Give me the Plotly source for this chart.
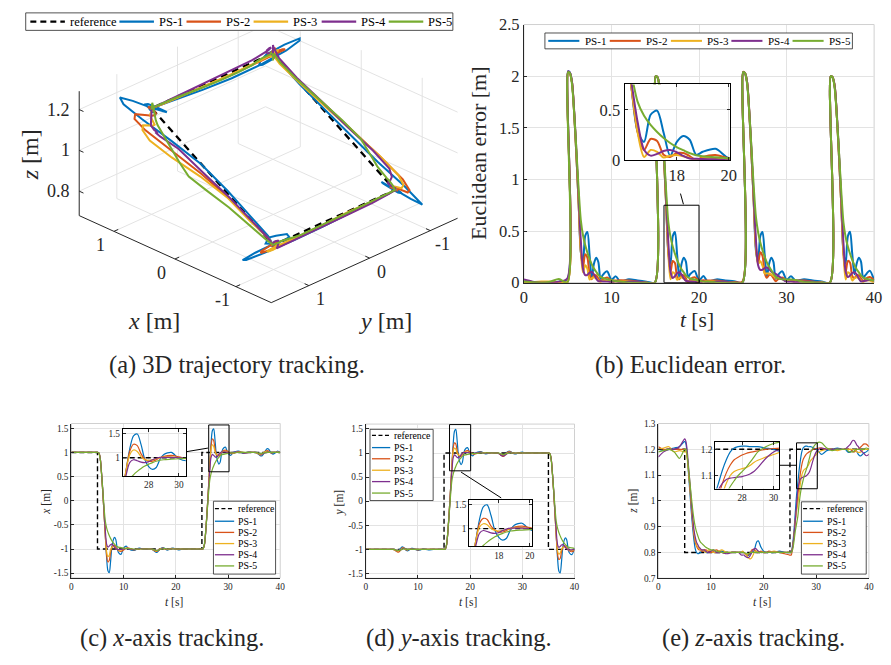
import numpy as np
import plotly.graph_objects as go

W, H = 891, 665
FONT = "Liberation Serif, DejaVu Serif, serif"
AX = "#262626"
GRID = "#e3e3e3"

names = ["PS-1", "PS-2", "PS-3", "PS-4", "PS-5"]
colors = ["#0072BD", "#D95319", "#EDB120", "#7E2F8E", "#77AC30"]

# ---------------- data ----------------
t = [0, 1, 2, 3, 4, 4.95,
     5.05, 5.25, 5.5, 5.75, 6, 6.25, 6.5, 6.75, 7, 7.25, 7.5, 7.75, 8, 8.25, 8.5, 8.75, 9, 9.5, 10, 10.5, 11, 12, 13, 14, 14.95,
     15.05, 15.25, 15.5, 15.75, 16, 16.25, 16.5, 16.75, 17, 17.25, 17.5, 17.75, 18, 18.25, 18.5, 18.75, 19, 19.5, 20, 20.5, 21, 22, 23, 24, 24.95,
     25.05, 25.25, 25.5, 25.75, 26, 26.25, 26.5, 26.75, 27, 27.25, 27.5, 27.75, 28, 28.25, 28.5, 28.75, 29, 29.5, 30, 30.5, 31, 32, 33, 34, 34.95,
     35.05, 35.25, 35.5, 35.75, 36, 36.25, 36.5, 36.75, 37, 37.25, 37.5, 37.75, 38, 38.25, 38.5, 38.75, 39, 39.5, 40]

ref_switch = [5, 15, 25, 35]
ref_x_levels = [1, -1, -1, 1, 1]
ref_y_levels = [-1, -1, 1, 1, -1]
ref_z_levels = [1.2, 0.8, 0.8, 1.2, 1.2]

# PS-1
x_ps1 = [1.00, 1.00, 1.00, 1.00, 1.00, 1.00,
         1.00, 0.99, 0.90, 0.60, 0.20, -0.25, -0.72, -1.18, -1.45, -1.49, -1.27, -0.96, -0.82, -0.76, -0.80, -0.97, -1.07, -1.11, -0.98, -0.94, -1.00, -1.03, -0.98, -1.01, -1.00,
         -1.00, -1.00, -1.01, -1.03, -1.05, -1.07, -1.06, -1.03, -1.00, -0.98, -0.97, -0.98, -1.00, -1.02, -1.02, -1.01, -0.99, -0.98, -1.00, -1.02, -1.01, -0.99, -1.00, -1.01, -1.00,
         -1.00, -0.99, -0.90, -0.60, -0.20, 0.25, 0.72, 1.18, 1.45, 1.49, 1.27, 0.96, 0.82, 0.76, 0.80, 0.97, 1.07, 1.11, 0.98, 0.94, 1.00, 1.03, 0.98, 1.01, 1.00,
         1.00, 1.00, 0.99, 0.97, 0.95, 0.93, 0.93, 0.96, 1.01, 1.05, 1.08, 1.07, 1.03, 0.99, 0.97, 0.97, 0.99, 1.03, 1.00]
y_ps1 = [-1.00, -1.00, -1.00, -1.00, -1.00, -1.00,
         -1.00, -1.00, -1.01, -1.03, -1.04, -1.03, -1.00, -0.97, -0.95, -0.96, -0.99, -1.02, -1.03, -1.02, -1.00, -0.98, -0.98, -1.00, -1.02, -1.01, -0.99, -1.01, -1.00, -1.00, -1.00,
         -1.00, -0.99, -0.90, -0.60, -0.20, 0.25, 0.72, 1.18, 1.45, 1.49, 1.27, 0.96, 0.82, 0.76, 0.80, 0.97, 1.07, 1.11, 0.98, 0.94, 1.00, 1.03, 0.98, 1.01, 1.00,
         1.00, 1.00, 0.99, 0.97, 0.95, 0.94, 0.95, 0.98, 1.01, 1.03, 1.04, 1.03, 1.01, 0.99, 0.98, 0.98, 0.99, 1.01, 1.02, 1.00, 0.99, 1.01, 1.00, 1.00, 1.00,
         1.00, 0.99, 0.90, 0.60, 0.20, -0.25, -0.72, -1.18, -1.45, -1.49, -1.27, -0.96, -0.82, -0.76, -0.80, -0.97, -1.07, -1.11, -0.98]
z_ps1 = [1.20, 1.195, 1.20, 1.205, 1.21, 1.23,
         1.23, 1.22, 1.17, 1.10, 1.03, 0.96, 0.90, 0.85, 0.815, 0.80, 0.795, 0.797, 0.80, 0.805, 0.807, 0.805, 0.80, 0.80, 0.805, 0.80, 0.80, 0.805, 0.80, 0.80, 0.80,
         0.80, 0.80, 0.80, 0.80, 0.80, 0.80, 0.795, 0.79, 0.788, 0.79, 0.795, 0.80, 0.80, 0.81, 0.83, 0.843, 0.845, 0.82, 0.805, 0.80, 0.80, 0.80, 0.805, 0.80, 0.80,
         0.80, 0.80, 0.83, 0.88, 0.95, 1.02, 1.07, 1.12, 1.16, 1.19, 1.205, 1.21, 1.212, 1.212, 1.21, 1.21, 1.21, 1.205, 1.20, 1.19, 1.18, 1.195, 1.20, 1.205, 1.20,
         1.20, 1.20, 1.20, 1.195, 1.19, 1.188, 1.19, 1.195, 1.20, 1.20, 1.195, 1.19, 1.18, 1.175, 1.175, 1.18, 1.185, 1.19, 1.20]

# PS-2
x_ps2 = [1.00, 1.00, 1.00, 1.00, 1.00, 1.00,
         1.00, 0.99, 0.90, 0.60, 0.20, -0.25, -0.72, -1.13, -1.27, -1.24, -1.08, -0.97, -0.93, -0.93, -0.96, -1.00, -1.03, -1.05, -1.02, -0.98, -0.98, -1.02, -0.99, -1.00, -1.00,
         -1.00, -1.00, -1.01, -1.02, -1.04, -1.05, -1.04, -1.02, -1.00, -0.99, -0.98, -0.99, -1.00, -1.01, -1.01, -1.00, -0.99, -0.99, -1.00, -1.01, -1.00, -1.00, -1.00, -1.00, -1.00,
         -1.00, -0.99, -0.90, -0.60, -0.20, 0.25, 0.72, 1.13, 1.28, 1.25, 1.08, 0.97, 0.93, 0.93, 0.96, 1.00, 1.03, 1.05, 1.02, 0.98, 0.98, 1.02, 0.99, 1.00, 1.00,
         1.00, 1.00, 0.99, 0.98, 0.96, 0.95, 0.96, 0.98, 1.01, 1.03, 1.04, 1.03, 1.01, 0.99, 0.99, 1.00, 1.00, 1.01, 1.00]
y_ps2 = [-1.00, -1.00, -1.00, -1.00, -1.00, -1.00,
         -1.00, -1.00, -1.01, -1.03, -1.05, -1.06, -1.04, -1.00, -0.97, -0.97, -0.99, -1.01, -1.01, -1.00, -1.00, -0.99, -1.00, -1.00, -1.01, -1.00, -1.00, -1.00, -1.00, -1.00, -1.00,
         -1.00, -0.99, -0.90, -0.60, -0.20, 0.25, 0.72, 1.10, 1.21, 1.19, 1.05, 0.97, 0.93, 0.93, 0.96, 1.00, 1.03, 1.05, 1.02, 0.98, 0.98, 1.02, 0.99, 1.00, 1.00,
         1.00, 1.00, 0.99, 0.97, 0.95, 0.93, 0.94, 0.97, 1.00, 1.02, 1.03, 1.02, 1.01, 1.00, 0.99, 0.99, 1.00, 1.01, 1.00, 1.00, 1.00, 1.00, 1.00, 1.00, 1.00,
         1.00, 0.99, 0.90, 0.60, 0.20, -0.25, -0.72, -1.10, -1.21, -1.19, -1.05, -0.97, -0.93, -0.93, -0.96, -1.00, -1.03, -1.05, -1.02]
z_ps2 = [1.21, 1.20, 1.20, 1.20, 1.20, 1.20,
         1.20, 1.20, 1.17, 1.11, 1.05, 0.98, 0.92, 0.87, 0.84, 0.825, 0.815, 0.81, 0.81, 0.805, 0.805, 0.81, 0.81, 0.805, 0.80, 0.805, 0.81, 0.80, 0.80, 0.80, 0.80,
         0.80, 0.80, 0.80, 0.80, 0.80, 0.80, 0.795, 0.79, 0.79, 0.795, 0.80, 0.81, 0.812, 0.81, 0.805, 0.80, 0.80, 0.805, 0.80, 0.80, 0.805, 0.80, 0.80, 0.795, 0.79,
         0.79, 0.79, 0.82, 0.86, 0.92, 0.97, 1.02, 1.07, 1.11, 1.14, 1.16, 1.17, 1.178, 1.184, 1.188, 1.191, 1.194, 1.20, 1.203, 1.205, 1.205, 1.20, 1.20, 1.20, 1.20,
         1.20, 1.20, 1.20, 1.20, 1.20, 1.20, 1.20, 1.195, 1.19, 1.19, 1.195, 1.20, 1.20, 1.205, 1.21, 1.215, 1.22, 1.22, 1.21]

# PS-3
x_ps3 = [1.00, 1.00, 1.00, 1.00, 1.00, 1.00,
         1.00, 0.99, 0.90, 0.60, 0.20, -0.25, -0.72, -1.06, -1.16, -1.13, -1.02, -0.96, -0.95, -0.96, -0.98, -1.00, -1.02, -1.02, -1.00, -0.99, -0.99, -1.01, -1.00, -1.00, -1.00,
         -1.00, -1.00, -1.01, -1.02, -1.03, -1.04, -1.03, -1.01, -1.00, -0.99, -0.99, -1.00, -1.00, -1.00, -1.01, -1.00, -1.00, -0.99, -1.00, -1.00, -1.00, -1.00, -1.00, -1.00, -1.00,
         -1.00, -0.99, -0.90, -0.60, -0.20, 0.25, 0.72, 1.06, 1.16, 1.13, 1.02, 0.96, 0.95, 0.96, 0.98, 1.00, 1.02, 1.02, 1.00, 0.99, 0.99, 1.01, 1.00, 1.00, 1.00,
         1.00, 1.00, 0.99, 0.98, 0.97, 0.96, 0.97, 0.99, 1.01, 1.02, 1.02, 1.01, 1.00, 1.00, 1.00, 1.00, 1.00, 1.00, 1.00]
y_ps3 = [-1.00, -1.00, -1.00, -1.00, -1.00, -1.00,
         -1.00, -1.00, -1.01, -1.02, -1.03, -1.03, -1.02, -1.00, -0.98, -0.98, -0.99, -1.00, -1.01, -1.00, -1.00, -1.00, -1.00, -1.00, -1.00, -1.00, -1.00, -1.00, -1.00, -1.00, -1.00,
         -1.00, -0.99, -0.90, -0.60, -0.20, 0.25, 0.72, 1.03, 1.10, 1.08, 1.00, 0.96, 0.95, 0.96, 0.98, 1.00, 1.02, 1.02, 1.00, 0.99, 0.99, 1.01, 1.00, 1.00, 1.00,
         1.00, 1.00, 0.99, 0.98, 0.96, 0.95, 0.95, 0.97, 0.99, 1.01, 1.02, 1.01, 1.00, 1.00, 1.00, 1.00, 1.00, 1.00, 1.00, 1.00, 1.00, 1.00, 1.00, 1.00, 1.00,
         1.00, 0.99, 0.90, 0.60, 0.20, -0.25, -0.72, -1.03, -1.10, -1.08, -1.00, -0.96, -0.95, -0.96, -0.98, -1.00, -1.02, -1.02, -1.00]
z_ps3 = [1.20, 1.205, 1.21, 1.19, 1.195, 1.19,
         1.19, 1.19, 1.16, 1.11, 1.05, 0.99, 0.93, 0.88, 0.85, 0.83, 0.82, 0.815, 0.81, 0.81, 0.81, 0.805, 0.80, 0.81, 0.805, 0.80, 0.80, 0.81, 0.80, 0.80, 0.80,
         0.80, 0.80, 0.80, 0.80, 0.805, 0.80, 0.795, 0.79, 0.783, 0.777, 0.775, 0.78, 0.79, 0.80, 0.805, 0.805, 0.80, 0.80, 0.80, 0.80, 0.80, 0.805, 0.80, 0.80, 0.80,
         0.80, 0.80, 0.82, 0.86, 0.92, 0.96, 0.99, 1.03, 1.07, 1.10, 1.115, 1.122, 1.126, 1.13, 1.138, 1.15, 1.158, 1.17, 1.18, 1.19, 1.195, 1.20, 1.20, 1.195, 1.20,
         1.20, 1.20, 1.20, 1.20, 1.20, 1.20, 1.20, 1.20, 1.20, 1.20, 1.195, 1.19, 1.188, 1.188, 1.19, 1.195, 1.20, 1.20, 1.20]

# PS-4
x_ps4 = [1.00, 1.00, 1.00, 1.00, 1.00, 1.00,
         1.00, 0.99, 0.90, 0.62, 0.24, -0.20, -0.62, -0.90, -0.96, -0.94, -0.91, -0.90, -0.92, -0.96, -0.99, -1.01, -1.01, -1.01, -1.00, -0.99, -1.00, -1.01, -0.99, -1.00, -1.00,
         -1.00, -1.00, -1.00, -1.01, -1.02, -1.03, -1.03, -1.02, -1.01, -1.00, -0.99, -0.99, -1.00, -1.00, -1.00, -1.00, -1.00, -1.00, -1.00, -1.00, -1.00, -1.00, -1.00, -1.00, -1.00,
         -1.00, -0.99, -0.90, -0.62, -0.24, 0.20, 0.62, 0.90, 0.96, 0.94, 0.91, 0.90, 0.92, 0.96, 0.99, 1.01, 1.01, 1.01, 1.00, 0.99, 1.00, 1.01, 0.99, 1.00, 1.00,
         1.00, 1.00, 1.00, 0.99, 0.98, 0.97, 0.97, 0.98, 0.99, 1.00, 1.01, 1.01, 1.00, 1.00, 1.00, 1.00, 1.00, 1.00, 1.00]
y_ps4 = [-1.00, -1.00, -1.00, -1.00, -1.00, -1.00,
         -1.00, -1.00, -1.00, -1.01, -1.02, -1.02, -1.02, -1.01, -0.99, -0.98, -0.98, -0.99, -1.00, -1.00, -1.00, -1.00, -1.00, -1.00, -1.00, -1.00, -1.00, -1.00, -1.00, -1.00, -1.00,
         -1.00, -0.99, -0.90, -0.62, -0.24, 0.20, 0.62, 0.90, 0.96, 0.94, 0.91, 0.90, 0.92, 0.96, 0.99, 1.01, 1.01, 1.01, 1.00, 0.99, 1.00, 1.01, 0.99, 1.00, 1.00,
         1.00, 1.00, 0.99, 0.97, 0.95, 0.94, 0.94, 0.96, 0.98, 1.00, 1.01, 1.01, 1.00, 1.00, 1.00, 1.00, 1.00, 1.00, 1.00, 1.00, 1.00, 1.00, 1.00, 1.00, 1.00,
         1.00, 0.99, 0.90, 0.62, 0.24, -0.20, -0.62, -0.90, -0.96, -0.94, -0.91, -0.90, -0.92, -0.96, -0.99, -1.01, -1.01, -1.01, -1.00]
z_ps4 = [1.17, 1.19, 1.20, 1.20, 1.21, 1.24,
         1.24, 1.23, 1.19, 1.13, 1.07, 1.00, 0.94, 0.89, 0.86, 0.84, 0.83, 0.82, 0.815, 0.81, 0.81, 0.81, 0.805, 0.80, 0.805, 0.81, 0.80, 0.80, 0.795, 0.80, 0.80,
         0.80, 0.80, 0.795, 0.79, 0.79, 0.79, 0.785, 0.782, 0.78, 0.782, 0.79, 0.80, 0.81, 0.815, 0.815, 0.81, 0.805, 0.80, 0.80, 0.80, 0.80, 0.80, 0.80, 0.80, 0.80,
         0.80, 0.80, 0.82, 0.86, 0.92, 0.98, 1.045, 1.07, 1.085, 1.09, 1.092, 1.094, 1.096, 1.10, 1.106, 1.115, 1.13, 1.165, 1.19, 1.20, 1.205, 1.20, 1.20, 1.20, 1.20,
         1.20, 1.20, 1.20, 1.205, 1.21, 1.215, 1.22, 1.23, 1.235, 1.233, 1.225, 1.215, 1.21, 1.20, 1.195, 1.19, 1.185, 1.175, 1.18]

# PS-5
x_ps5 = [1.00, 1.00, 1.00, 1.00, 1.00, 1.00,
         1.00, 0.99, 0.88, 0.60, 0.25, -0.12, -0.42, -0.56, -0.65, -0.72, -0.78, -0.83, -0.87, -0.90, -0.93, -0.95, -0.96, -0.97, -0.98, -0.99, -0.99, -1.00, -1.00, -1.00, -1.00,
         -1.00, -1.00, -1.00, -1.01, -1.02, -1.03, -1.03, -1.02, -1.01, -1.00, -1.00, -0.99, -0.99, -1.00, -1.00, -1.00, -1.00, -1.00, -1.00, -1.00, -1.00, -1.00, -1.00, -1.00, -1.00,
         -1.00, -0.99, -0.88, -0.60, -0.25, 0.12, 0.42, 0.56, 0.65, 0.72, 0.78, 0.83, 0.87, 0.90, 0.93, 0.95, 0.96, 0.97, 0.98, 0.99, 0.99, 1.00, 1.00, 1.00, 1.00,
         1.00, 1.00, 1.00, 0.99, 0.98, 0.98, 0.98, 0.99, 0.99, 1.00, 1.00, 1.00, 1.00, 1.00, 1.00, 1.00, 1.00, 1.00, 1.00]
y_ps5 = [-1.00, -1.00, -1.00, -1.00, -1.00, -1.00,
         -1.00, -1.00, -1.00, -1.01, -1.02, -1.02, -1.02, -1.01, -1.00, -0.99, -0.99, -0.99, -1.00, -1.00, -1.00, -1.00, -1.00, -1.00, -1.00, -1.00, -1.00, -1.00, -1.00, -1.00, -1.00,
         -1.00, -0.99, -0.88, -0.60, -0.25, 0.12, 0.42, 0.56, 0.65, 0.72, 0.78, 0.83, 0.87, 0.90, 0.93, 0.95, 0.96, 0.97, 0.98, 0.99, 0.99, 1.00, 1.00, 1.00, 1.00,
         1.00, 1.00, 1.00, 0.99, 0.98, 0.97, 0.97, 0.98, 0.99, 0.99, 1.00, 1.00, 1.00, 1.00, 1.00, 1.00, 1.00, 1.00, 1.00, 1.00, 1.00, 1.00, 1.00, 1.00, 1.00,
         1.00, 0.99, 0.88, 0.60, 0.25, -0.12, -0.42, -0.56, -0.65, -0.72, -0.78, -0.83, -0.87, -0.90, -0.93, -0.95, -0.96, -0.97, -0.98]
z_ps5 = [1.19, 1.195, 1.20, 1.19, 1.165, 1.20,
         1.20, 1.20, 1.17, 1.12, 1.07, 1.02, 0.97, 0.93, 0.90, 0.88, 0.865, 0.85, 0.84, 0.835, 0.83, 0.825, 0.82, 0.815, 0.81, 0.81, 0.805, 0.80, 0.80, 0.80, 0.80,
         0.80, 0.80, 0.80, 0.80, 0.80, 0.80, 0.798, 0.795, 0.795, 0.797, 0.80, 0.80, 0.80, 0.80, 0.80, 0.80, 0.80, 0.80, 0.80, 0.80, 0.80, 0.80, 0.80, 0.80, 0.80,
         0.80, 0.80, 0.81, 0.84, 0.88, 0.91, 0.94, 0.99, 1.03, 1.058, 1.08, 1.10, 1.115, 1.13, 1.15, 1.17, 1.19, 1.21, 1.222, 1.228, 1.225, 1.205, 1.195, 1.20, 1.20,
         1.20, 1.20, 1.20, 1.20, 1.195, 1.19, 1.19, 1.19, 1.19, 1.195, 1.20, 1.20, 1.20, 1.20, 1.20, 1.20, 1.20, 1.205, 1.20]

X = [x_ps1, x_ps2, x_ps3, x_ps4, x_ps5]
Y = [y_ps1, y_ps2, y_ps3, y_ps4, y_ps5]
Z = [z_ps1, z_ps2, z_ps3, z_ps4, z_ps5]
for nm, arrs in (("x", X), ("y", Y), ("z", Z)):
    for i, a in enumerate(arrs):
        if len(a) != len(t):
            raise ValueError(f"{nm}_ps{i+1} has {len(a)} values, expected {len(t)}")

# 3D axis limits and tick values
lim3_x = [-1.58, 1.57]
lim3_y = [-1.45, 1.62]
lim3_z = [0.68, 1.29]
ticks3_xy = [-1, 0, 1]
ticks3_z = [0.8, 1.0, 1.2]

# ---------------- derived quantities ----------------
tt = np.array(t, dtype=float)
lvl = np.searchsorted(ref_switch, tt, side="right")
xr = np.array(ref_x_levels)[lvl]
yr = np.array(ref_y_levels)[lvl]
zr = np.array(ref_z_levels)[lvl]
ERR = [np.sqrt((np.array(X[i]) - xr) ** 2 + (np.array(Y[i]) - yr) ** 2 + (np.array(Z[i]) - zr) ** 2)
       for i in range(5)]


def ref_path(levels):
    tp, vp = [0], [levels[0]]
    for i, s in enumerate(ref_switch):
        tp += [s, s]
        vp += [levels[i], levels[i + 1]]
    tp.append(40)
    vp.append(levels[-1])
    return tp, vp


# ---------------- helpers for layout ----------------
def px(x):
    return x / W


def py(y):
    return 1 - y / H


def xdom(x0, x1):
    return [px(x0), px(x1)]


def ydom(ytop, ybot):
    return [py(ybot), py(ytop)]


fig = go.Figure()

# ---------------- (a) 3D view drawn with an orthographic projection ----------------
AZ, EL = np.radians(-135.0), np.radians(27.4)     # MATLAB-style view angles
KX, KY, KZ = 87.4, 87.0, 236.5                   # screen length of one data unit on each axis
SCX, SCY = 268.0, 150.0                          # screen position of the box centre
XC, YC, ZC = np.mean(lim3_x), np.mean(lim3_y), np.mean(lim3_z)


def proj(x, y, z):
    x, y, z = (np.asarray(v, dtype=float) for v in (x, y, z))
    u, v, w = (x - XC) * KX, (y - YC) * KY, (z - ZC) * KZ
    sx = SCX + np.cos(AZ) * u + np.sin(AZ) * v
    up = -np.sin(AZ) * np.sin(EL) * u + np.cos(AZ) * np.sin(EL) * v + np.cos(EL) * w
    return sx, SCY - up


def seg_trace(segs, color, width):
    xs, ys = [], []
    for p, q in segs:
        a = proj(*p)
        b = proj(*q)
        xs += [float(a[0]), float(b[0]), None]
        ys += [float(a[1]), float(b[1]), None]
    return go.Scatter(x=xs, y=ys, mode="lines", xaxis="x9", yaxis="y9",
                      line=dict(color=color, width=width), showlegend=False, hoverinfo="skip")


x0_, x1_ = lim3_x
y0_, y1_ = lim3_y
z0_, z1_ = lim3_z
grid_segs = []
for v in ticks3_xy:
    grid_segs += [((v, y0_, z0_), (v, y1_, z0_)), ((x0_, v, z0_), (x1_, v, z0_)),   # floor
                  ((x1_, v, z0_), (x1_, v, z1_)),                                   # wall x = max
                  ((v, y0_, z0_), (v, y0_, z1_))]                                   # wall y = min
for v in ticks3_z:
    grid_segs += [((x1_, y0_, v), (x1_, y1_, v)), ((x0_, y0_, v), (x1_, y0_, v))]
fig.add_trace(seg_trace(grid_segs, GRID, 1))

axis_segs = [((x0_, y1_, z0_), (x1_, y1_, z0_)), ((x0_, y0_, z0_), (x0_, y1_, z0_)),
             ((x1_, y1_, z0_), (x1_, y1_, z1_))]
tl = 0.07
for v in ticks3_xy:
    axis_segs += [((v, y1_, z0_), (v, y1_ - tl, z0_)), ((x0_, v, z0_), (x0_ + tl, v, z0_))]
for v in ticks3_z:
    axis_segs += [((x1_, y1_, v), (x1_ - tl, y1_, v))]
fig.add_trace(seg_trace(axis_segs, AX, 1))

rx, ry = proj(ref_x_levels, ref_y_levels, ref_z_levels)
fig.add_trace(go.Scatter(x=rx, y=ry, mode="lines", xaxis="x9", yaxis="y9",
                         line=dict(color="black", width=2.3, dash="7px,5px"),
                         showlegend=False, hoverinfo="skip"))
for i in range(5):
    sx, sy = proj(X[i], Y[i], Z[i])
    fig.add_trace(go.Scatter(x=sx, y=sy, mode="lines", xaxis="x9", yaxis="y9",
                             line=dict(color=colors[i], width=2),
                             showlegend=False, hoverinfo="skip"))


# ---------------- 2D panels ----------------
def add_lines(xa, ya, data_list, width, with_ref=None):
    if with_ref is not None:
        tp, vp = ref_path(with_ref)
        fig.add_trace(go.Scatter(x=tp, y=vp, mode="lines", xaxis=xa, yaxis=ya,
                                 line=dict(color="black", width=width + 0.2, dash="5px,3px"),
                                 showlegend=False, hoverinfo="skip"))
    for i in range(5):
        fig.add_trace(go.Scatter(x=t, y=list(data_list[i]), mode="lines", xaxis=xa, yaxis=ya,
                                 line=dict(color=colors[i], width=width, shape="spline", smoothing=0.8),
                                 showlegend=False, hoverinfo="skip"))


add_lines("x", "y", ERR, 2.0)
add_lines("x2", "y2", ERR, 2.0)
add_lines("x3", "y3", X, 1.2, ref_x_levels)
add_lines("x4", "y4", X, 1.2, ref_x_levels)
add_lines("x5", "y5", Y, 1.2, ref_y_levels)
add_lines("x6", "y6", Y, 1.2, ref_y_levels)
add_lines("x7", "y7", Z, 1.2, ref_z_levels)
add_lines("x8", "y8", Z, 1.2, ref_z_levels)


def axis(domain, rng, tickvals, fs, anchor, inset=False):
    return dict(domain=domain, range=rng, tickvals=tickvals, ticktext=["%g" % v for v in tickvals],
                showgrid=True, gridcolor=GRID, gridwidth=1, zeroline=False,
                showline=True, linecolor="black" if inset else AX, linewidth=1,
                mirror="ticks" if inset else False,
                ticks="inside", ticklen=3, tickcolor=AX,
                tickfont=dict(family=FONT, size=fs, color=AX),
                anchor=anchor, fixedrange=True, layer="above traces")


tx = [0, 10, 20, 30, 40]
ty_b = [0, 0.5, 1, 1.5, 2, 2.5]
ty_cd = [-1.5, -1, -0.5, 0, 0.5, 1, 1.5]
ty_e = [0.7, 0.8, 0.9, 1.0, 1.1, 1.2, 1.3]

layout_axes = {
    "xaxis": axis(xdom(527, 882), [0, 40], tx, 16.5, "y"),
    "yaxis": axis(ydom(16, 281.7), [0, 2.5], ty_b, 16.5, "x"),
    "xaxis2": axis(xdom(629, 736), [16, 20.05], [18, 20], 16.5, "y2", True),
    "yaxis2": axis(ydom(77.7, 155.7), [0, 0.75], [0, 0.5], 16.5, "x2", True),
    "xaxis3": axis(xdom(68.3, 280), [0, 40], tx, 9.3, "y3"),
    "yaxis3": axis(ydom(426.7, 585.7), [-1.6, 1.6], ty_cd, 9.3, "x3"),
    "xaxis4": axis(xdom(120.5, 184.3), [26.3, 30.45], [28, 30], 9.3, "y4", True),
    "yaxis4": axis(ydom(432.5, 481), [0.62, 1.59], [1, 1.5], 9.3, "x4", True),
    "xaxis5": axis(xdom(366.7, 578.3), [0, 40], tx, 9.3, "y5"),
    "yaxis5": axis(ydom(427.3, 586), [-1.6, 1.6], ty_cd, 9.3, "x5"),
    "xaxis6": axis(xdom(471.7, 535.3), [16.1, 20.15], [18, 20], 9.3, "y6", True),
    "yaxis6": axis(ydom(505, 553.3), [0.63, 1.6], [1, 1.5], 9.3, "x6", True),
    "xaxis7": axis(xdom(663.3, 876.7), [0, 40], tx, 9.3, "y7"),
    "yaxis7": axis(ydom(426.7, 586), [0.7, 1.3], ty_e, 9.3, "x7"),
    "xaxis8": axis(xdom(721, 785.7), [26.3, 30.35], [28, 30], 9.3, "y8", True),
    "yaxis8": axis(ydom(445.7, 493.7), [1.05, 1.228], [1.1, 1.2], 9.3, "x8", True),
    # canvas for the projected 3D view (one unit = one pixel)
    "xaxis9": dict(domain=xdom(0, 470), range=[0, 470], visible=False, fixedrange=True, anchor="y9"),
    "yaxis9": dict(domain=ydom(23, 340), range=[340, 23], visible=False, fixedrange=True, anchor="x9"),
}

shapes = []
annotations = []

for k in ["", "3", "5", "7"]:
    shapes.append(dict(type="rect", xref=f"x{k} domain", yref=f"y{k} domain", x0=0, x1=1, y0=0, y1=1,
                       line=dict(color="#d0d0d0", width=1), layer="below"))

for xa, ya, x0, x1, y0, y1 in [("x", "y", 16, 20, 0, 0.75),
                               ("x3", "y3", 26.3, 30.2, 0.6, 1.57),
                               ("x5", "y5", 16.05, 20.1, 0.63, 1.59),
                               ("x7", "y7", 26.25, 30.2, 1.047, 1.225)]:
    shapes.append(dict(type="rect", xref=xa, yref=ya, x0=x0, x1=x1, y0=y0, y1=y1,
                       line=dict(color="black", width=1), layer="above"))

for (ax0, ay0, ax1, ay1) in [(685.7, 190, 688.7, 201), (185, 455.7, 206.7, 452),
                             (463.3, 476.7, 504, 503.3), (785.7, 469.7, 803.3, 469.7)]:
    shapes.append(dict(type="line", xref="paper", yref="paper", x0=px(ax0), y0=py(ay0),
                       x1=px(ax1), y1=py(ay1), line=dict(color="black", width=1)))


def legend_box(x0, y0, x1, y1):
    shapes.append(dict(type="rect", xref="paper", yref="paper", x0=px(x0), x1=px(x1),
                       y0=py(y1), y1=py(y0), line=dict(color=AX, width=0.8),
                       fillcolor="white", layer="above"))


def legend_item(lx0, lx1, yc, textx, name, color, dash, width, fs):
    shapes.append(dict(type="line", xref="paper", yref="paper", x0=px(lx0), x1=px(lx1),
                       y0=py(yc), y1=py(yc), line=dict(color=color, width=width, dash=dash),
                       layer="above"))
    annotations.append(dict(text=name, x=px(textx), y=py(yc), xref="paper", yref="paper",
                            xanchor="left", yanchor="middle", showarrow=False,
                            font=dict(family=FONT, size=fs, color="black")))


entries = [("reference", "black", "6px,4px")] + [(names[i], colors[i], "solid") for i in range(5)]

legend_box(22, 4, 455, 22)
for (nm, col, dsh), lx in zip(entries, [26.7, 117, 185, 253, 322, 390]):
    legend_item(lx, lx + 35, 13, lx + 38, nm, col, dsh, 2.2, 12.5)
legend_box(548.3, 24.7, 860, 41)
for (nm, col, dsh), lx in zip(entries[1:], [551.7, 614, 676, 737.3, 799.3]):
    legend_item(lx, lx + 31.5, 32.8, lx + 35, nm, col, dsh, 2.0, 11)
for box, rows, lx0, lx1, txx in [((212.3, 506.7, 275.3, 581.7), [514.3, 527.3, 538.8, 550.3, 561.8, 573.3], 213.8, 233.3, 235),
                                 ((371, 432.7, 435, 506), [439, 451.5, 463, 474.8, 486.5, 498.3], 373, 391.5, 393.5),
                                 ((808.3, 507.3, 874, 581.7), [514.3, 527.3, 538.8, 550.3, 561.8, 573.3], 810, 830, 832)]:
    legend_box(*box)
    for (nm, col, dsh), ry in zip(entries, rows):
        legend_item(lx0, lx1, ry, txx, nm, col, "4px,2.5px" if nm == "reference" else dsh, 1.3, 9.8)


def label(text, x, y, fs, angle=0, xanchor="center", ref="paper"):
    if ref == "paper":
        xx, yy, xr_, yr_ = px(x), py(y), "paper", "paper"
    else:
        xx, yy, xr_, yr_ = x, y, "x9", "y9"
    annotations.append(dict(text=text, x=xx, y=yy, xref=xr_, yref=yr_,
                            xanchor=xanchor, yanchor="middle", showarrow=False, textangle=angle,
                            font=dict(family=FONT, size=fs, color=AX)))


# 3D tick labels placed next to the projected tick positions
for v in ticks3_xy:
    sx, sy = proj(v, y1_, z0_)
    label("%g" % v, float(sx) - 14, float(sy) + 14, 18, ref="x9")
    sx, sy = proj(x0_, v, z0_)
    label("%g" % v, float(sx) + 12, float(sy) + 14, 18, ref="x9")
for v in ticks3_z:
    sx, sy = proj(x1_, y1_, v)
    label("%g" % v, float(sx) - 7, float(sy), 18, xanchor="right", ref="x9")

label("<i>x</i> [m]", 152, 321, 24)
label("<i>y</i> [m]", 387, 321, 24)
label("<i>z</i> [m]", 26, 150, 24, -90)
label("Euclidean error [m]", 481.7, 149, 22, -90)
label("<i>t</i> [s]", 702.7, 320, 21.5)
label("<i>x</i> [m]", 41.7, 507, 11.5, -90)
label("<i>t</i> [s]", 172, 610.7, 11.5)
label("<i>y</i> [m]", 340, 507.5, 11.5, -90)
label("<i>t</i> [s]", 470, 610.7, 11.5)
label("<i>z</i> [m]", 636.7, 507, 11.5, -90)
label("<i>t</i> [s]", 768, 610.7, 11.5)

cap = 24.5
label("(a) 3D trajectory tracking.", 236, 366, cap)
label("(b) Euclidean error.", 696, 366, cap)
label("(c) <i>x</i>-axis tracking.", 170, 648, cap)
label("(d) <i>y</i>-axis tracking.", 461, 648, cap)
label("(e) <i>z</i>-axis tracking.", 760, 648, cap)

fig.update_layout(
    width=W, height=H, margin=dict(l=0, r=0, t=0, b=0),
    paper_bgcolor="white", plot_bgcolor="white", showlegend=False,
    font=dict(family=FONT, color=AX),
    shapes=shapes, annotations=annotations,
    **layout_axes,
)

fig.write_html("out.html", config={"displayModeBar": False, "staticPlot": True})
